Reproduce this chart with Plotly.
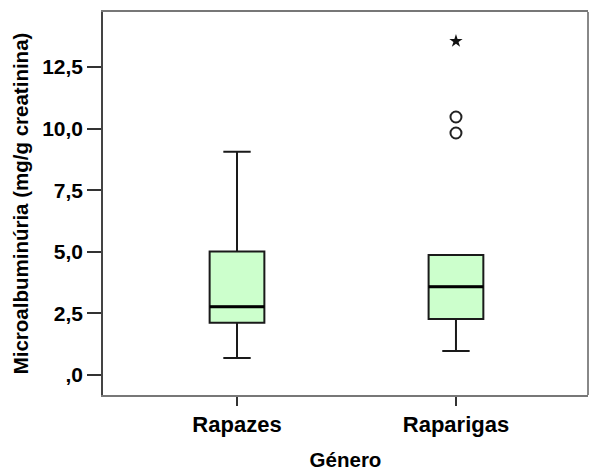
import plotly.graph_objects as go

categories = ["Rapazes", "Raparigas"]
cat_pos = [0, 1]
q1 = [2.12, 2.27]
median = [2.77, 3.58]
q3 = [5.01, 4.87]
lowerfence = [0.69, 0.98]
upperfence = [9.06, 4.87]

outlier_cat = [1, 1]
outlier_vals = [10.47, 9.82]
extreme_cat = [1]
extreme_vals = [13.55]

ytick_vals = [0, 2.5, 5.0, 7.5, 10.0, 12.5]
ytick_text = [",0", "2,5", "5,0", "7,5", "10,0", "12,5"]

FONT = "Liberation Sans, Arial, sans-serif"

fig = go.Figure()
fig.add_trace(go.Box(
    x=cat_pos, q1=q1, median=median, q3=q3,
    lowerfence=lowerfence, upperfence=upperfence,
    fillcolor="#ccffcc", line=dict(color="#1a1a1a", width=2),
    width=0.25, whiskerwidth=0.5, boxpoints=False, showlegend=False,
    hoverinfo="skip",
))
# thicker median lines
for xc, m in zip(cat_pos, median):
    fig.add_trace(go.Scatter(x=[xc - 0.125, xc + 0.125], y=[m, m], mode="lines",
                             line=dict(color="black", width=3), showlegend=False,
                             hoverinfo="skip"))
fig.add_trace(go.Scatter(
    x=outlier_cat, y=outlier_vals, mode="markers",
    marker=dict(symbol="circle-open", size=11, color="#222", line=dict(width=2)),
    showlegend=False,
))
fig.add_trace(go.Scatter(
    x=extreme_cat, y=extreme_vals, mode="markers",
    marker=dict(symbol="star", size=10, color="#111"),
    showlegend=False,
))

fig.update_layout(
    width=589, height=473,
    margin=dict(l=103, r=1, t=12, b=78),
    paper_bgcolor="white", plot_bgcolor="white",
    font=dict(family=FONT, color="black", size=21, weight="bold"),
    xaxis=dict(
        range=[-0.612, 1.603], tickvals=cat_pos, ticktext=categories,
        showline=True, linecolor="#777", linewidth=2, mirror=True,
        ticks="outside", ticklen=9, tickcolor="#333", tickwidth=1.5,
        showgrid=False, zeroline=False,
        tickfont=dict(family=FONT, size=22, weight="bold"),
        title=dict(text="Género", font=dict(family=FONT, size=20.5, weight="bold"), standoff=16),
    ),
    yaxis=dict(
        range=[-0.81, 14.73], tickvals=ytick_vals, ticktext=ytick_text,
        showline=True, linecolor="#444", linewidth=1.5,
        ticks="outside", ticklen=14, tickcolor="#333", tickwidth=1.5,
        showgrid=False, zeroline=False,
        tickfont=dict(family=FONT, size=21, weight="bold"),
        title=dict(text="Microalbuminúria (mg/g creatinina)",
                   font=dict(family=FONT, size=20.5, weight="bold"), standoff=8),
    ),
    shapes=[dict(type="line", xref="paper", yref="paper", x0=1, x1=1, y0=0, y1=1,
                 line=dict(color="#888", width=2))],
)

fig.write_html("out.html")
